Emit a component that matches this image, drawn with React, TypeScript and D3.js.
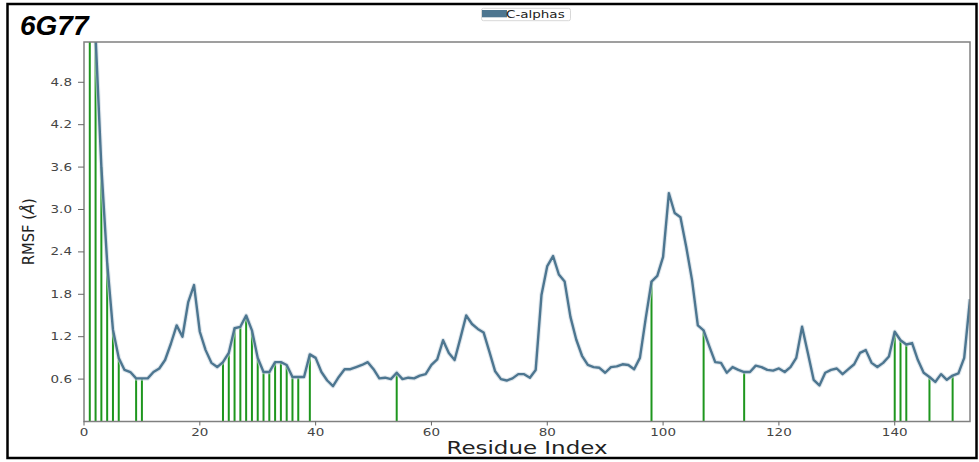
import React from "react";
import * as d3 from "d3";

const rmsf: number[] = [
  6.0, 6.2, 5.45, 3.6, 2.25, 1.3, 0.9, 0.73, 0.7, 0.61,
  0.61, 0.61, 0.7, 0.75, 0.87, 1.1, 1.36, 1.2, 1.69, 1.93,
  1.27, 1.01, 0.83, 0.77, 0.84, 0.97, 1.32, 1.34, 1.5, 1.29,
  0.9, 0.7, 0.7, 0.84, 0.84, 0.8, 0.63, 0.63, 0.63, 0.95,
  0.9, 0.7, 0.58, 0.5, 0.63, 0.74, 0.74, 0.77, 0.8, 0.84,
  0.74, 0.61, 0.62, 0.6, 0.69, 0.6, 0.62, 0.61, 0.65, 0.67,
  0.8, 0.88, 1.15, 0.97, 0.87, 1.18, 1.5, 1.38, 1.31, 1.26,
  0.99, 0.71, 0.6, 0.58, 0.61, 0.67, 0.67, 0.62, 0.73, 1.79,
  2.2, 2.34, 2.08, 1.98, 1.48, 1.16, 0.93, 0.8, 0.77, 0.76,
  0.69, 0.77, 0.78, 0.81, 0.8, 0.74, 0.9, 1.46, 1.98, 2.06,
  2.33, 3.23, 2.95, 2.89, 2.47, 2.0, 1.36, 1.29, 1.06, 0.84,
  0.83, 0.69, 0.77, 0.73, 0.7, 0.7, 0.79, 0.77, 0.73, 0.72,
  0.75, 0.7, 0.77, 0.9, 1.34, 0.97, 0.59, 0.51, 0.69, 0.73,
  0.75, 0.67, 0.74, 0.81, 0.97, 1.01, 0.83, 0.77, 0.83, 0.92,
  1.27, 1.15, 1.09, 1.11, 0.87, 0.69, 0.63, 0.56, 0.67, 0.59,
  0.65, 0.68, 0.9, 1.73,
];

const contacts: number[] = [
  1, 2, 3, 4, 5, 6, 9, 10,
  24, 25, 26, 27, 28, 29, 30, 31, 32, 33, 34, 35, 36, 37,
  39, 54, 98, 107, 114, 140, 141, 142, 146, 150,
];

const yTicks: number[] = [0.6, 1.2, 1.8, 2.4, 3.0, 3.6, 4.2, 4.8];
const xTicks: number[] = [0, 20, 40, 60, 80, 100, 120, 140];

const title = "6G77";
const seriesName = "C-alphas";
const xLabel = "Residue Index";

const W = 979;
const H = 462;
const L = 84, R = 970, T = 42, B = 421.5;
const SX = 1.35;
const LINE = "#4d7690";
const GREEN = "#1e961e";
const FONT = "DejaVu Sans, sans-serif";

export default function App() {
  const x = d3.scaleLinear().domain([0, 153]).range([L, R]);
  const y = d3.scaleLinear().domain([0, 5.37]).range([B, T]);
  const line = d3
    .line<number>()
    .x((_, i) => x(i))
    .y((d) => y(d));

  return (
    <svg
      width={W}
      height={H}
      style={{ position: "absolute", left: 0, top: 0, background: "#fff" }}
    >
      <defs>
        <clipPath id="plot">
          <rect x={L} y={T} width={R - L} height={B - T} />
        </clipPath>
      </defs>
      <rect x={0} y={0} width={W} height={H} fill="#fff" />
      {/* outer frame */}
      <rect x={7.5} y={4} width={969} height={454} fill="none" stroke="#000" strokeWidth={2.5} />

      {/* title */}
      <text
        x={20}
        y={35}
        fontFamily="Liberation Sans, Arial, sans-serif"
        fontWeight="bold"
        fontStyle="italic"
        fontSize={28}
        fill="#000"
      >
        {title}
      </text>

      {/* legend */}
      <rect x={481.5} y={8.3} width={89} height={12.4} rx={2} fill="#fff" stroke="#d8d8d8" strokeWidth={1} />
      <rect x={482} y={10} width={25} height={7.3} fill={LINE} />
      <text
        transform={`translate(506,18) scale(${SX},1)`}
        fontFamily={FONT}
        fontSize={10}
        fill="#222"
      >
        {seriesName}
      </text>

      {/* green contact lines */}
      <g clipPath="url(#plot)">
        {contacts.map((c) => (
          <line
            key={c}
            x1={x(c)}
            x2={x(c)}
            y1={B}
            y2={y(rmsf[c])}
            stroke={GREEN}
            strokeWidth={2}
          />
        ))}
        <path d={line(rmsf) || ""} fill="none" stroke="#c9d6df" strokeWidth={4.5} strokeLinejoin="round" opacity={0.6} />
        <path d={line(rmsf) || ""} fill="none" stroke={LINE} strokeWidth={2.4} strokeLinejoin="round" />
      </g>

      {/* spines */}
      <rect x={L} y={T} width={R - L} height={B - T} fill="none" stroke="#808080" strokeWidth={1.5} />

      {/* y ticks */}
      {yTicks.map((t) => (
        <g key={t}>
          <line x1={L - 6} x2={L} y1={y(t)} y2={y(t)} stroke="#666" strokeWidth={1} />
          <text
            transform={`translate(72,${y(t) + 3.6}) scale(${SX},1)`}
            textAnchor="end"
            fontFamily={FONT}
            fontSize={10}
            fill="#444"
          >
            {t.toFixed(1)}
          </text>
        </g>
      ))}

      {/* x ticks */}
      {xTicks.map((t) => (
        <g key={t}>
          <line x1={x(t)} x2={x(t)} y1={B} y2={B + 4} stroke="#666" strokeWidth={1} />
          <text
            transform={`translate(${x(t)},435.5) scale(${SX},1)`}
            textAnchor="middle"
            fontFamily={FONT}
            fontSize={10}
            fill="#444"
          >
            {t}
          </text>
        </g>
      ))}

      {/* axis labels */}
      <text
        transform={`translate(${(L + R) / 2},454) scale(${SX},1)`}
        textAnchor="middle"
        fontFamily={FONT}
        fontSize={17}
        fill="#222"
      >
        {xLabel}
      </text>
      <text
        transform={`translate(34,${(T + B) / 2}) rotate(-90)`}
        textAnchor="middle"
        fontFamily={FONT}
        fontSize={16.5}
        fill="#222"
        textLength={67}
        lengthAdjust="spacingAndGlyphs"
      >
        RMSF (<tspan fontStyle="italic">Å</tspan>)
      </text>
    </svg>
  );
}
